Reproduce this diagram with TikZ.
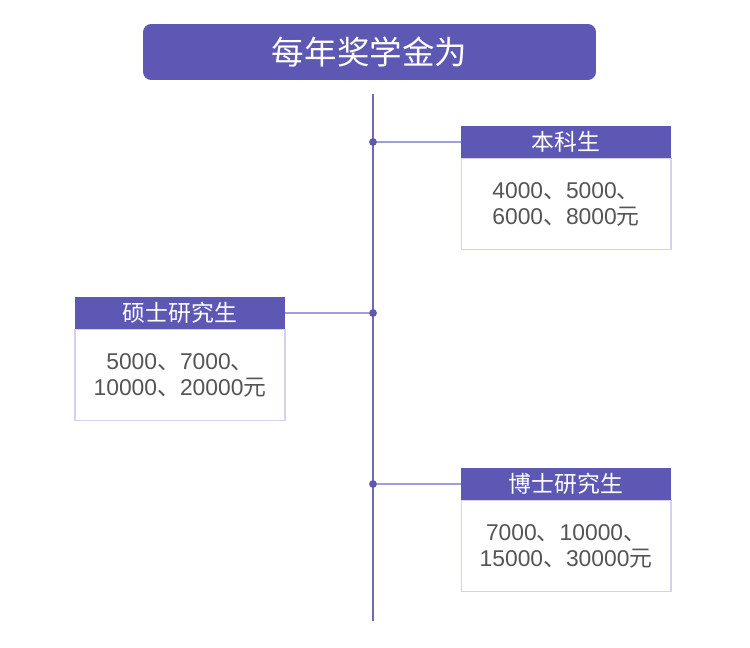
\documentclass[tikz,border=0pt]{standalone}
\usepackage{fontspec}
\usepackage{xcolor}
\usepackage{tikz}
\usetikzlibrary{positioning}
\setmainfont{Liberation Sans}
\newfontfamily\cjk{Noto Sans CJK SC}
\newcommand{\dun}{{\cjk 、}}
\newcommand{\yuan}{{\cjk 元}}
\definecolor{colorHEAD}{HTML}{5D58B3}
\definecolor{colorAXIS}{HTML}{6E68C0}
\definecolor{colorLINK}{HTML}{A29DDC}
\definecolor{colorEDGE}{HTML}{D3D1EE}
\definecolor{colorTEXT}{HTML}{555555}
\tikzset{
   every path/.style={line cap=butt},
   axis/.style={draw=colorAXIS, line width=1.2pt},
   link/.style={draw=colorLINK, line width=0.7pt},
   dot/.style={circle, fill=colorHEAD, inner sep=0pt, minimum size=0.15cm},
}

\begin{document}
\begin{tikzpicture}[x=0.02cm, y=-0.02cm,
   title/.style={rectangle, rounded corners=0.16cm, fill=colorHEAD, text=white, minimum width=9.06cm, minimum height=1.12cm, inner sep=0pt, font=\cjk\fontsize{18.5}{20}\selectfont},
   head/.style={rectangle, fill=colorHEAD, text=white, minimum width=4.2cm, minimum height=0.64cm, inner sep=0pt, font=\cjk\fontsize{13}{14}\selectfont},
   body/.style={rectangle, draw=colorEDGE, line width=0.6pt, fill=white, text=colorTEXT, minimum width=4.2cm, minimum height=1.82cm, inner sep=0pt, align=center, font=\fontsize{13}{15.2}\selectfont}]
  \useasboundingbox (0,0) rectangle (750,648);

  \node [title] (t) at (369.5,52) {每年奖学金为};

  % timeline
  \coordinate (top) at (373,94);
  \coordinate (bot) at (373,621);
  \draw [axis] (top) -- (bot);

  \node [dot] (d1) at (373,142) {};
  \node [dot] (d2) at (373,313) {};
  \node [dot] (d3) at (373,484) {};

  % boxes
  \node [head] (h1) at (566,142) {本科生};
  \node [body, below=0pt of h1] (b1) {4000\dun5000\dun\\6000\dun8000\yuan};

  \node [head] (h2) at (180,313) {硕士研究生};
  \node [body, below=0pt of h2] (b2) {5000\dun7000\dun\\10000\dun20000\yuan};

  \node [head] (h3) at (566,484) {博士研究生};
  \node [body, below=0pt of h3] (b3) {7000\dun10000\dun\\15000\dun30000\yuan};

  \draw [link] (d1) -- (h1.west);
  \draw [link] (h2.east) -- (d2);
  \draw [link] (d3) -- (h3.west);
  \node [dot] at (d1) {};
  \node [dot] at (d2) {};
  \node [dot] at (d3) {};
\end{tikzpicture}
\end{document}
